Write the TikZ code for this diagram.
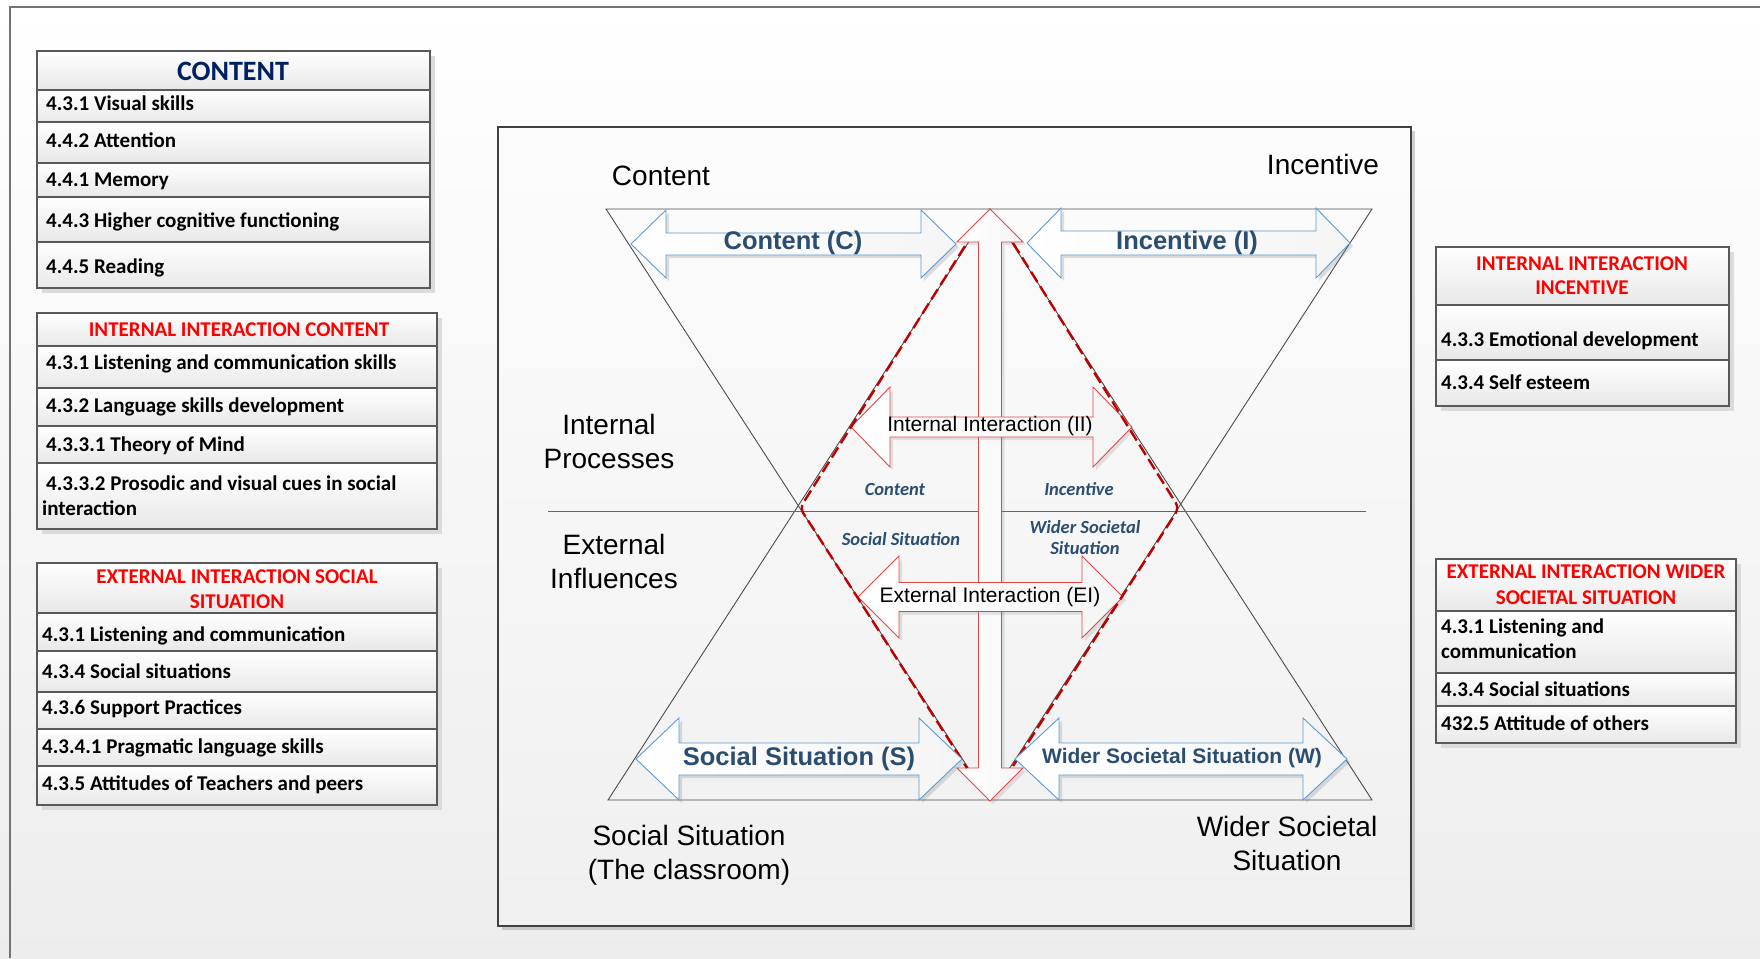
\documentclass[tikz,border=0pt]{standalone}
\usepackage{fontspec}
\setmainfont{Liberation Sans}
\newfontfamily\calib{Carlito}
\usetikzlibrary{shadows}
\definecolor{navy}{HTML}{002060}
\definecolor{labblue}{HTML}{2A4D70}
\definecolor{arrblue}{HTML}{5B9BD5}
\definecolor{arrred}{HTML}{E04848}
\definecolor{dashred}{HTML}{C00000}
\definecolor{hdrred}{HTML}{FF0000}
\tikzset{%
  cell/.style={
    draw=black!65,
    line width=1.2pt,
    top color=white,
    bottom color=black!9
  },
  tableshadow/.style={fill=black!14, draw=none},
  item/.style={font=\calib\bfseries\fontsize{21}{25}\selectfont, anchor=base west, inner sep=0pt},
  hdr/.style={font=\calib\bfseries\fontsize{21}{25}\selectfont, text=hdrred, anchor=base, inner sep=0pt},
  biglabel/.style={font=\fontsize{28}{34}\selectfont, align=center, inner sep=0pt},
  arrlabel/.style={font=\bfseries\fontsize{25.5}{30}\selectfont, text=labblue, inner sep=0pt},
  midlabel/.style={font=\fontsize{21}{25}\selectfont, inner sep=0pt},
  smalllabel/.style={font=\calib\bfseries\itshape\fontsize{18.5}{21}\selectfont, text=labblue, align=center, inner sep=0pt},
  triline/.style={draw=black!70, line width=0.9pt},
  bluearrow/.style={draw=arrblue, line width=0.9pt, left color=white, right color=black!4,
    drop shadow={opacity=0.25, shadow xshift=3pt, shadow yshift=-3pt}},
  redarrow/.style={draw=arrred, line width=0.9pt, left color=white, right color=black!4,
    drop shadow={opacity=0.2, shadow xshift=3pt, shadow yshift=-3pt}},
  reddash/.style={draw=dashred, line width=2.4pt, dash pattern=on 12pt off 5pt, rounded corners=6pt},
}
% horizontal double arrow: [style]{x tip 1}{x tip 2}{y}{head length}{shaft half}{head half}
\newcommand{\dblharrow}[7][]{%
  \draw[#1] (#2,#4) -- ({#2+#5},{#4-#7}) -- ({#2+#5},{#4-#6}) -- ({#3-#5},{#4-#6})
    -- ({#3-#5},{#4-#7}) -- (#3,#4) -- ({#3-#5},{#4+#7}) -- ({#3-#5},{#4+#6})
    -- ({#2+#5},{#4+#6}) -- ({#2+#5},{#4+#7}) -- cycle;}
% vertical double arrow: [style]{x}{y top}{y bottom}{head length}{shaft half}{head half}
\newcommand{\dblvarrow}[7][]{%
  \draw[#1] (#2,#3) -- ({#2+#7},{#3+#5}) -- ({#2+#6},{#3+#5}) -- ({#2+#6},{#4-#5})
    -- ({#2+#7},{#4-#5}) -- (#2,#4) -- ({#2-#7},{#4-#5}) -- ({#2-#6},{#4-#5})
    -- ({#2-#6},{#3+#5}) -- ({#2-#7},{#3+#5}) -- cycle;}

\begin{document}
\begin{tikzpicture}[x=1pt, y=-1pt]
\useasboundingbox (0,0) rectangle (1760,958);
\shade[top color=white, bottom color=black!7] (0,0) rectangle (1760,958);
\draw[black!55, line width=1.2pt] (1760,7) -- (10,7) -- (10,958);

% left tables
\fill[tableshadow] (42,56) rectangle (435,293);
\draw[cell] (37,51) rectangle (430,90);
\foreach \ya/\yb in {90/122, 122/163, 163/197, 197/242, 242/288}
    \draw[cell] (37,\ya) rectangle (430,\yb);
\node[hdr, text=navy, font=\calib\bfseries\fontsize{28}{32}\selectfont] (c-head) at (233,80) {CONTENT};
\node[item] (c-1) at (46,110) {4.3.1 Visual skills};
\node[item] (c-2) at (46,147) {4.4.2 Attention};
\node[item] (c-3) at (46,186) {4.4.1 Memory};
\node[item] (c-4) at (46,227) {4.4.3 Higher cognitive functioning};
\node[item] (c-5) at (46,273) {4.4.5 Reading};

\fill[tableshadow] (42,318) rectangle (442,534);
\draw[cell] (37,313) rectangle (437,346);
\foreach \ya/\yb in {346/388, 388/426, 426/463, 463/529}
    \draw[cell] (37,\ya) rectangle (437,\yb);
\node[hdr] (iic-head) at (239,336) {INTERNAL INTERACTION CONTENT};
\node[item] (iic-1) at (46,369) {4.3.1 Listening and communication skills};
\node[item] (iic-2) at (46,412) {4.3.2 Language skills development};
\node[item] (iic-3) at (46,451) {4.3.3.1 Theory of Mind};
\node[item] (iic-4) at (46,490) {4.3.3.2 Prosodic and visual cues in social};
\node[item] (iic-4b) at (42,515) {interaction};

\fill[tableshadow] (42,568) rectangle (442,810);
\draw[cell] (37,563) rectangle (437,613);
\foreach \ya/\yb in {613/651, 651/692, 692/729, 729/766, 766/805}
    \draw[cell] (37,\ya) rectangle (437,\yb);
\node[hdr] (eis-head) at (237,583) {EXTERNAL INTERACTION SOCIAL};
\node[hdr] (eis-head2) at (237,608) {SITUATION};
\node[item] (eis-1) at (42,641) {4.3.1 Listening and communication};
\node[item] (eis-2) at (42,678) {4.3.4 Social situations};
\node[item] (eis-3) at (42,714) {4.3.6 Support Practices};
\node[item] (eis-4) at (42,753) {4.3.4.1 Pragmatic language skills};
\node[item] (eis-5) at (42,790) {4.3.5 Attitudes of Teachers and peers};

% right tables
\fill[tableshadow] (1441,252) rectangle (1734,411);
\draw[cell] (1436,247) rectangle (1729,305);
\foreach \ya/\yb in {305/360, 360/406}
    \draw[cell] (1436,\ya) rectangle (1729,\yb);
\node[hdr] (iii-head) at (1582,270) {INTERNAL INTERACTION};
\node[hdr] (iii-head2) at (1582,294) {INCENTIVE};
\node[item] (iii-1) at (1441,346) {4.3.3 Emotional development};
\node[item] (iii-2) at (1441,389) {4.3.4 Self esteem};

\fill[tableshadow] (1441,564) rectangle (1741,748);
\draw[cell] (1436,559) rectangle (1736,611);
\foreach \ya/\yb in {611/673, 673/706, 706/743}
    \draw[cell] (1436,\ya) rectangle (1736,\yb);
\node[hdr] (eiw-head) at (1586,578) {EXTERNAL INTERACTION WIDER};
\node[hdr] (eiw-head2) at (1586,604) {SOCIETAL SITUATION};
\node[item] (eiw-1) at (1441,633) {4.3.1 Listening and};
\node[item] (eiw-1b) at (1441,658) {communication};
\node[item] (eiw-2) at (1441,696) {4.3.4 Social situations};
\node[item] (eiw-3) at (1441,730) {432.5 Attitude of others};

% central model
\draw[draw=black!75, line width=1.6pt, top color=black!1, bottom color=black!6,
    drop shadow={opacity=0.35, shadow xshift=4pt, shadow yshift=-4pt}] (498,127) rectangle (1411,926);

\draw[triline] (606,209) -- (1372,209) -- (989,800) -- cycle;
\draw[triline] (608,800) -- (1372,800) -- (990,209) -- cycle;
\draw[black!60, line width=0.9pt] (548,511) -- (1366,511);

\dblvarrow[redarrow]{990}{209}{801}{33}{11.5}{33}
\dblharrow[redarrow]{851}{1132}{427}{39}{10}{40}
\dblharrow[redarrow]{858}{1123}{597}{41}{14.5}{41}

\draw[reddash] (965,246) -- (800,508) -- (967,768);
\draw[reddash] (1013,243) -- (1179,508) -- (1013,766);

\dblharrow[bluearrow]{631}{956}{244}{35}{11}{34}
\dblharrow[bluearrow]{1027}{1350}{243}{34}{12}{35}
\dblharrow[bluearrow]{636}{962}{759}{43}{16}{41}
\dblharrow[bluearrow]{1015}{1347}{759}{44}{16}{41}

\node[arrlabel] (lab-c) at (793,243) {Content (C)};
\node[arrlabel] (lab-i) at (1187,243) {Incentive (I)};
\node[arrlabel] (lab-s) at (799,759) {Social Situation (S)};
\node[arrlabel, font=\bfseries\fontsize{21}{25}\selectfont] (lab-w) at (1182,758) {Wider Societal Situation (W)};
\node[midlabel] (lab-ii) at (990,426) {Internal Interaction (II)};
\node[midlabel] (lab-ei) at (990,597) {External Interaction (EI)};

\node[smalllabel] (sm-content) at (895,489) {Content};
\node[smalllabel] (sm-incentive) at (1079,489) {Incentive};
\node[smalllabel] (sm-social) at (901,539) {Social Situation};
\node[smalllabel] (sm-wider) at (1085,538) {Wider Societal\\Situation};

\node[biglabel] (big-content) at (661,176) {Content};
\node[biglabel] (big-incentive) at (1323,164) {Incentive};
\node[biglabel] (big-internal) at (609,441) {Internal\\Processes};
\node[biglabel] (big-external) at (614,561) {External\\Influences};
\node[biglabel] (big-social) at (689,855) {Social Situation\\(The classroom)};
\node[biglabel] (big-wider) at (1287,843) {Wider Societal\\Situation};
\end{tikzpicture}
\end{document}
